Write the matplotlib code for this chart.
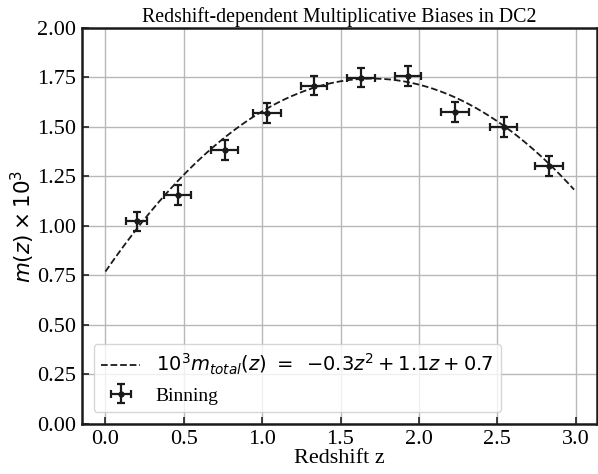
import numpy as np
import matplotlib
matplotlib.use("Agg")
import matplotlib.pyplot as plt

# punkty z binowania
z_bin = [0.20, 0.46, 0.76, 1.03, 1.33, 1.63, 1.93, 2.23, 2.54, 2.83]
m_bin = [1.024, 1.155, 1.385, 1.571, 1.709, 1.749, 1.758, 1.574, 1.498, 1.303]
z_err = [0.068, 0.089, 0.084, 0.088, 0.085, 0.087, 0.085, 0.088, 0.085, 0.087]
m_err = [0.048, 0.05, 0.05, 0.049, 0.05, 0.048, 0.05, 0.05, 0.05, 0.05]

# wspolczynniki dopasowania (a z^2 + b z + c)
fit_coef = [-0.337, 1.146, 0.77]
z_fit_range = (0.0, 2.99)

plt.rcParams['font.family'] = ['Liberation Serif', 'DejaVu Serif']
plt.rcParams['mathtext.fontset'] = 'dejavusans'

fig = plt.figure(figsize=(5.98, 4.74), dpi=100)
ax = fig.add_axes([0.137, 0.1055, 0.861, 0.8355])

z_line = np.linspace(z_fit_range[0], z_fit_range[1], 200)
ax.plot(z_line, np.polyval(fit_coef, z_line), '--', color='#1a1a1a', lw=1.3,
        label=r'$10^3m_{total}(z)\ =\ \,{-}0.3z^2 + 1.1z + 0.7$')
ax.errorbar(z_bin, m_bin, xerr=z_err, yerr=m_err, fmt='o', color='#1a1a1a',
            ms=3.5, elinewidth=1.6, capsize=3, capthick=1.6, label='Binning')

ax.set_xlim(-0.15, 3.135)
ax.set_ylim(0, 2.0)
ax.set_xticks([0.0, 0.5, 1.0, 1.5, 2.0, 2.5, 3.0])
ax.set_yticks(np.arange(0, 2.01, 0.25))
ax.yaxis.set_major_formatter(matplotlib.ticker.FormatStrFormatter('%.2f'))
ax.xaxis.set_major_formatter(matplotlib.ticker.FormatStrFormatter('%.1f'))
ax.grid(True, color='#b8b8b8', lw=1.0)
ax.set_axisbelow(True)
ax.tick_params(direction='in', length=5, width=1.2, labelsize=16, color='#222222', pad=4)
for s in ax.spines.values():
    s.set_linewidth(1.8)
    s.set_color('#1a1a1a')

ax.set_title('Redshift-dependent Multiplicative Biases in DC2', fontsize=14.3, pad=4)
ax.set_xlabel('Redshift z', fontsize=16, labelpad=0)
ax.set_ylabel(r'$m(z) \times 10^3$', fontsize=15.5, labelpad=0)

leg = ax.legend(loc='lower left', prop={'size': 14}, borderaxespad=0.6)

fig.savefig('out.png', dpi=100)
